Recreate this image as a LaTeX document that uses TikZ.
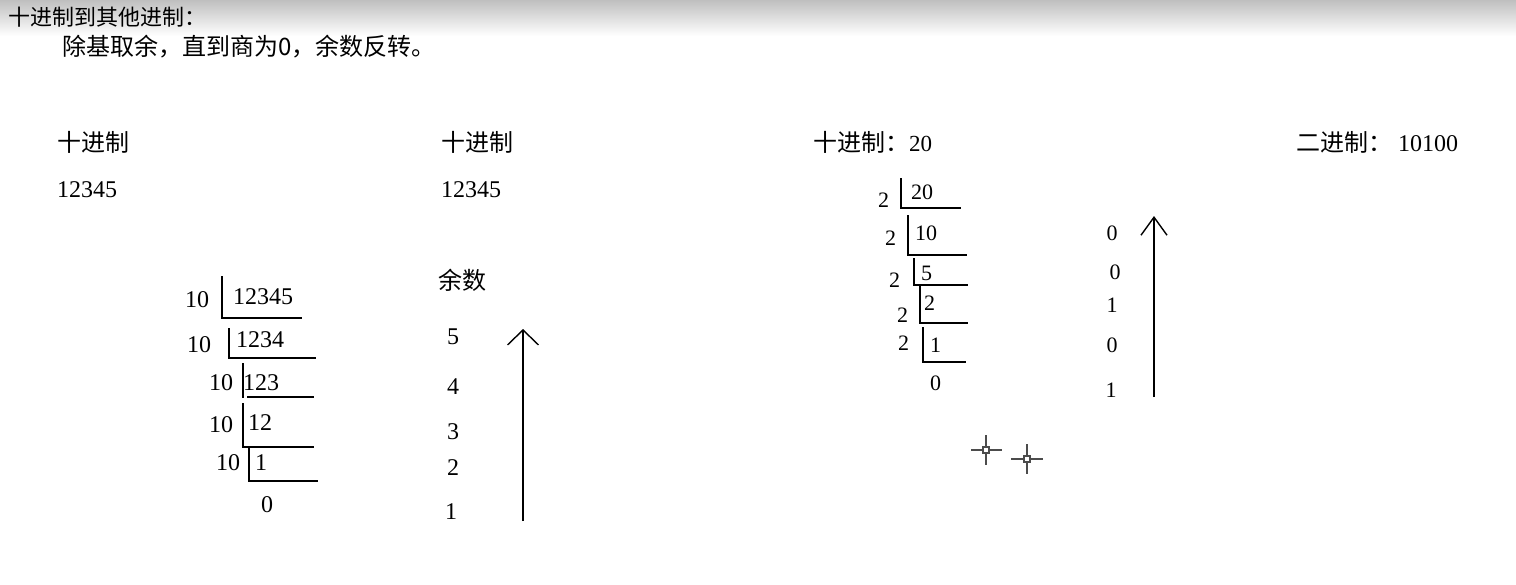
\documentclass[tikz,border=0pt]{standalone}
\usepackage{fontspec}
\setmainfont{Liberation Serif}
\newfontfamily\cjk{Noto Sans CJK SC}
\usetikzlibrary{arrows.meta}
\begin{document}
\begin{tikzpicture}[x=1pt,y=-1pt,
  num/.style={anchor=west,inner sep=0pt,font=\fontsize{24}{28}\selectfont},
  nums/.style={anchor=west,inner sep=0pt,font=\fontsize{22}{26}\selectfont},
  cjkt/.style={anchor=west,inner sep=0pt,font=\cjk\fontsize{24}{28}\selectfont},
  br/.style={line width=1.3pt},
  up/.style={line width=1.4pt,-{Straight Barb[length=15pt,width=31pt,line width=1.4pt]}},
  upb/.style={line width=1.4pt,-{Straight Barb[length=18pt,width=26pt,line width=1.4pt]}},
  cross/.style={gray!60!black,line width=1.2pt}]
\useasboundingbox (0,0) rectangle (1516,584);
\fill[white] (0,0) rectangle (1516,584);
\shade[top color=gray!50, bottom color=white] (0,0) rectangle (1516,36);
% titles
\node[cjkt,font=\cjk\fontsize{22}{26}\selectfont] (title) at (8,17) {十进制到其他进制：};
\node[cjkt] (rule) at (62,47) {除基取余，直到商为0，余数反转。};
% headings
\node[cjkt] (h1) at (57,142) {十进制};
\node[num] (v1) at (57,190) {12345};
\node[cjkt] (h2) at (441,142) {十进制};
\node[num] (v2) at (441,190) {12345};
\node[cjkt] (h3) at (813,142) {十进制：\fontspec{Liberation Serif}\fontsize{23}{26}\selectfont 20};
\node[cjkt] (h4) at (1296,142) {二进制：\hspace{6pt}\fontspec{Liberation Serif}\fontsize{24}{28}\selectfont 10100};
% division 1
\node[num] (d1a) at (185,300) {10};
\node[num] (q1a) at (233,297) {12345};
\draw[br] (222,276) |- (302,318);
\node[num] (d1b) at (187,345) {10};
\node[num] (q1b) at (236,340) {1234};
\draw[br] (229,328) |- (316,358);
\node[num] (d1c) at (209,383) {10};
\node[num] (q1c) at (243,383) {123};
\draw[br] (243,363) -- (243,398);
\draw[br] (247,397) -- (314,397);
\node[num] (d1d) at (209,425) {10};
\node[num] (q1d) at (248,423) {12};
\draw[br] (243,403) |- (314,447);
\node[num] (d1e) at (216,463) {10};
\node[num] (q1e) at (255,463) {1};
\draw[br] (249,447) |- (318,481);
\node[num] (q1f) at (261,505) {0};
% remainders 1
\node[cjkt] (rem) at (438,280) {余数};
\node[num,anchor=center] (r15) at (453,337) {5};
\node[num,anchor=center] (r14) at (453,387) {4};
\node[num,anchor=center] (r13) at (453,432) {3};
\node[num,anchor=center] (r12) at (453,468) {2};
\node[num,anchor=center] (r11) at (451,512) {1};
\coordinate (a1s) at (523,521);
\coordinate (a1e) at (523,329);
\draw[up] (a1s) -- (a1e);
% division 2
\node[nums] (d2a) at (878,200) {2};
\node[nums] (q2a) at (911,192) {20};
\draw[br] (901,178) |- (961,208);
\node[nums] (d2b) at (885,238) {2};
\node[nums] (q2b) at (915,233) {10};
\draw[br] (908,215) |- (967,255);
\node[nums] (d2c) at (889,280) {2};
\node[nums] (q2c) at (921,273) {5};
\draw[br] (914,258) |- (968,285);
\node[nums] (d2d) at (897,315) {2};
\node[nums] (q2d) at (924,303) {2};
\draw[br] (920,285) |- (968,323);
\node[nums] (d2e) at (898,343) {2};
\node[nums] (q2e) at (930,345) {1};
\draw[br] (923,327) |- (966,362);
\node[nums] (q2f) at (930,383) {0};
% remainders 2
\node[nums,anchor=center] (r25) at (1112,233) {0};
\node[nums,anchor=center] (r24) at (1115,272) {0};
\node[nums,anchor=center] (r23) at (1112,305) {1};
\node[nums,anchor=center] (r22) at (1112,345) {0};
\node[nums,anchor=center] (r21) at (1111,390) {1};
\coordinate (a2s) at (1154,397);
\coordinate (a2e) at (1154,216);
\draw[upb] (a2s) -- (a2e);
% crosshair cursors
\draw[cross] (971,450) -- (1002,450) (986,435) -- (986,465);
\draw[cross,fill=white] (983,447) rectangle (989,453);
\draw[cross] (1011,459) -- (1043,459) (1027,444) -- (1027,474);
\draw[cross,fill=white] (1024,456) rectangle (1030,462);
\end{tikzpicture}
\end{document}
